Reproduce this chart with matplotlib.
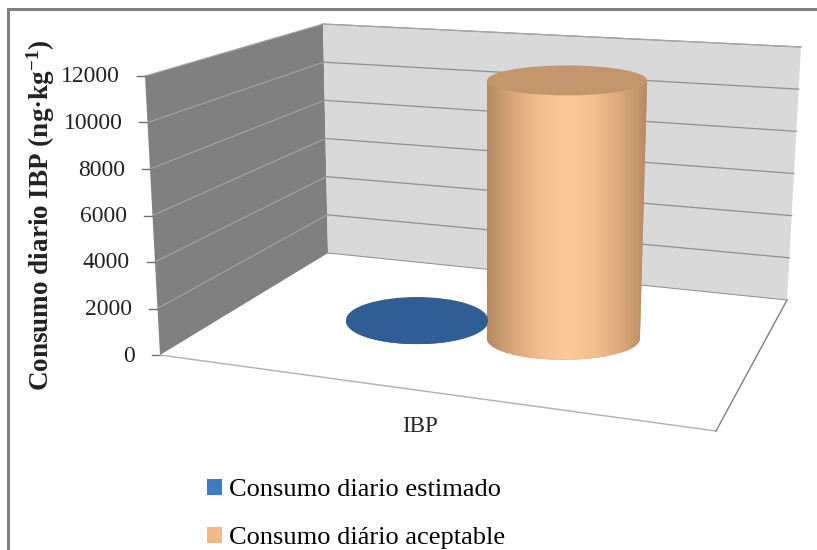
import numpy as np
import matplotlib
matplotlib.use('Agg')
import matplotlib.pyplot as plt
from matplotlib.colors import LinearSegmentedColormap
from matplotlib.patches import Ellipse, PathPatch, Patch, Polygon
from matplotlib.path import Path

plt.rcParams['font.family'] = ['Liberation Serif', 'DejaVu Serif']
plt.rcParams['mathtext.fontset'] = 'custom'
plt.rcParams['mathtext.rm'] = 'Liberation Serif'
plt.rcParams['mathtext.bf'] = 'Liberation Serif:bold'

# data
series_names = ['Consumo diario estimado', 'Consumo diário aceptable']
series_values = [50, 11500]
category = 'IBP'
y_ticks = [0, 2000, 4000, 6000, 8000, 10000, 12000]
y_max = 12000

# corners of the 3d box in pixels (u left-right, d front-back, bottom/top)
FLB, BLB, BRB, FRB = (160, 355), (328, 253), (787, 300), (716, 431)
FLT, BLT, BRT, FRT = (145, 76), (323, 24), (801, 47), (726, 121)


def project(u, d, v):
    # map box coords to pixels
    corners = np.array([[FLB, FRB], [BLB, BRB]], dtype=float), \
        np.array([[FLT, FRT], [BLT, BRT]], dtype=float)
    pts = []
    for c in corners:
        front = c[0, 0] * (1 - u) + c[0, 1] * u
        back = c[1, 0] * (1 - u) + c[1, 1] * u
        pts.append(front * (1 - d) + back * d)
    t = v / y_max
    return pts[0] * (1 - t) + pts[1] * t


def draw_cylinder(ax, u, d, value, w_bot, h_bot, w_top, h_top, top_color, cmap):
    bx, by = project(u, d, 0)
    tx, ty = project(u, d, value)
    a = np.linspace(0, np.pi, 60)
    # outline: left to right along the top, back along the front of the base
    xs = np.r_[tx - w_top, tx + w_top, bx + w_bot * np.cos(a)]
    ys = np.r_[ty, ty, by + h_bot * np.sin(a)]
    side = PathPatch(Path(np.c_[xs, ys]), fc=top_color, ec='none', zorder=4)
    ax.add_patch(side)
    grad = np.linspace(0, 1, 256).reshape(1, -1)
    im = ax.imshow(grad, cmap=cmap, aspect='auto', zorder=4,
                   extent=[min(bx - w_bot, tx - w_top), max(bx + w_bot, tx + w_top),
                           by + h_bot, ty - h_top])
    im.set_clip_path(side)
    ax.add_patch(Ellipse((tx, ty), 2 * w_top, 2 * h_top, fc=top_color,
                         ec='none', zorder=5))


fig = plt.figure(figsize=(8.17, 5.5), dpi=100)
ax = fig.add_axes([0, 0, 1, 1])
ax.axis('off')

# walls
ax.add_patch(Polygon([FLB, BLB, BLT, FLT], fc='#808080', ec='none', zorder=1))
ax.add_patch(Polygon([BLB, BRB, BRT, BLT], fc='#d9d9d9', ec='none', zorder=1))

# gridlines and ticks
for v in y_ticks:
    p0, p1, p2 = project(0, 0, v), project(0, 1, v), project(1, 1, v)
    if v > 0:
        ax.plot([p0[0], p1[0]], [p0[1], p1[1]], color='#a6a6a6', lw=0.8, zorder=2)
        ax.plot([p1[0], p2[0]], [p1[1], p2[1]], color='#8f8f8f', lw=0.9, zorder=2)
    ax.plot([p0[0] - 8, p0[0]], [p0[1], p0[1]], color='#707070', lw=1.0, zorder=2)
    ax.text(p0[0] - 25, p0[1] + 1, str(v), ha='right', va='center',
            fontsize=17, color='#222222')

# floor edges
ax.plot(*zip(FLB, FRB), color='#b0b0b0', lw=1.0, zorder=2)
ax.plot(*zip(FRB, BRB), color='#808080', lw=1.0, zorder=2)
ax.plot(*zip(BLB, BRB), color='#8c8c8c', lw=0.7, zorder=2)
ax.plot(*zip(BLT, BRT), color='#a8a8a8', lw=0.7, zorder=2)

# bars
orange = LinearSegmentedColormap.from_list(
    'o', ['#b38a63', '#dca77a', '#f4bf8e', '#fdca97', '#f4bf8e', '#dca77a', '#b38a63'])
blue = LinearSegmentedColormap.from_list('b', ['#2f5d94', '#2f5d94'])
draw_cylinder(ax, 0.333, 0.53, series_values[0], 71, 23, 71, 23, '#2f5d94', blue)
draw_cylinder(ax, 0.623, 0.53, series_values[1], 76.5, 21, 80, 15, '#c4966c', orange)

ax.text(420, 427, category, ha='center', va='center', fontsize=16.5, color='#222222')
ax.text(41, 215, 'Consumo diario IBP (ng·kg$\\mathbf{^{-1}}$)', rotation=90,
        ha='center', va='center', fontsize=19.5, fontweight='bold', color='#222222')

handles = [Patch(fc='#3f7cbf', ec='none'), Patch(fc='#f0b98a', ec='none')]
ax.legend(handles, series_names, loc='upper left', bbox_to_anchor=(207 / 817, 1 - 479 / 550),
          frameon=False, fontsize=19, labelspacing=0.95, handlelength=0.57,
          handleheight=0.57, handletextpad=0.27, borderaxespad=0, borderpad=0)

# frame of the picture, only top and left are visible
ax.plot([8, 8, 817], [550, 8.5, 8.5], color='#808080', lw=2.2, zorder=6,
        solid_joinstyle='miter')

ax.set_xlim(0, 817)
ax.set_ylim(550, 0)
fig.savefig('out.png', dpi=100)
